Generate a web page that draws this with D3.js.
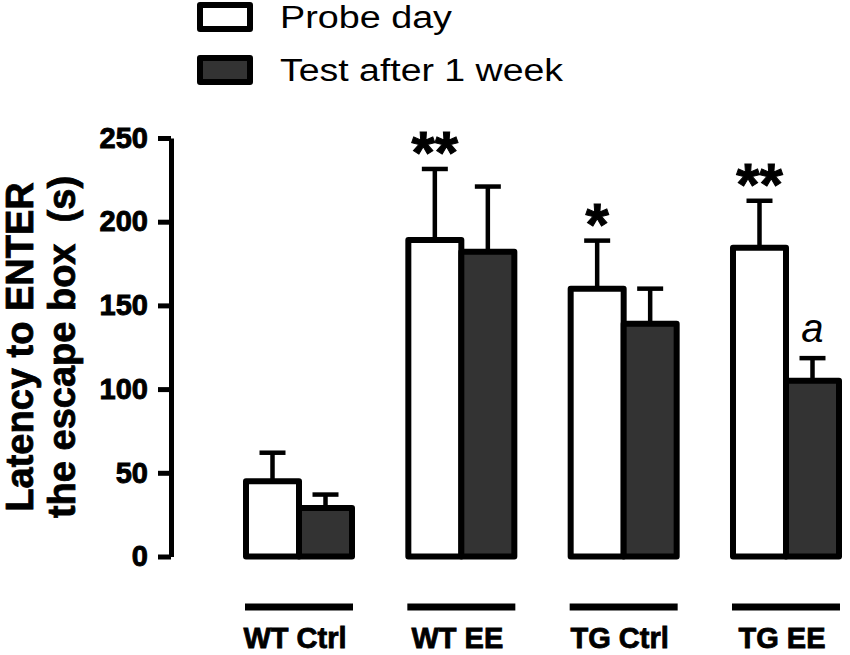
<!DOCTYPE html>
<html><head><meta charset="utf-8">
<script src="https://cdn.jsdelivr.net/npm/d3@7"></script>
<style>body{margin:0;background:#fff}svg{display:block}text{font-family:"Liberation Sans",Arial,sans-serif}</style>
</head><body>
<svg id="c" width="850" height="655"></svg>
<script>
const groups = ["WT Ctrl", "WT EE", "TG Ctrl", "TG EE"];
const seriesNames = ["Probe day", "Test after 1 week"];
const probeDay = [45, 189, 160, 184.5];
const probeSem = [17, 42.5, 28.7, 28];
const testWeek = [29, 182, 139, 105];
const testSem = [8, 39, 21, 13.5];
const probeMarks = ["", "**", "*", "**"];
const testMarks = ["", "", "", "a"];
const yTicks = [0, 50, 100, 150, 200, 250];

const svg = d3.select("#c");
const y = d3.scaleLinear().domain([0, 250]).range([556.5, 138]);
const x0 = d3.scaleBand().domain(groups).range([246, 839]).paddingInner(0.347).paddingOuter(0);
const x1 = d3.scaleBand().domain(seriesNames).range([0, x0.bandwidth()]);
const fills = {"Probe day": "#ffffff", "Test after 1 week": "#333333"};

const rows = [];
groups.forEach((g, i) => {
  rows.push({g, s: seriesNames[0], v: probeDay[i], e: probeSem[i], m: probeMarks[i]});
  rows.push({g, s: seriesNames[1], v: testWeek[i], e: testSem[i], m: testMarks[i]});
});

// axis
const axis = d3.axisLeft(y).tickValues(yTicks).tickSizeOuter(0).tickSizeInner(13).tickPadding(10);
const ax = svg.append("g").attr("transform", "translate(171,0)").call(axis);
ax.select(".domain").attr("stroke", "#000").attr("stroke-width", 5);
ax.selectAll(".tick line").attr("stroke", "#000").attr("stroke-width", 5);
ax.selectAll(".tick text").attr("fill", "#000").attr("stroke", "#000").attr("stroke-width", 0.9)
  .style("font-size", "29px").style("font-weight", "bold")
  .style("font-family", '"Liberation Sans",Arial,sans-serif');

// y title
const yt = svg.append("text").attr("transform", "translate(0,347) rotate(-90)")
  .attr("text-anchor", "middle").style("font-weight", "bold").style("font-size", "38px")
  .attr("stroke", "#000").attr("stroke-width", 0.8);
yt.append("tspan").attr("x", 0).attr("y", 33).text("Latency to ENTER");
yt.append("tspan").attr("x", 0).attr("y", 75).text("the escape box\u00a0\u00a0(s)");

// error bars
const cx = d => x0(d.g) + x1(d.s) + x1.bandwidth() / 2;
const eb = svg.append("g").attr("stroke", "#000").attr("stroke-width", 4.5);
eb.selectAll("line.v").data(rows).join("line").attr("class", "v")
  .attr("x1", cx).attr("x2", cx).attr("y1", d => y(d.v)).attr("y2", d => y(d.v + d.e));
eb.selectAll("line.c").data(rows).join("line").attr("class", "c")
  .attr("x1", d => cx(d) - 13).attr("x2", d => cx(d) + 13).attr("y1", d => y(d.v + d.e)).attr("y2", d => y(d.v + d.e));

// bars
svg.append("g").selectAll("rect").data(rows).join("rect")
  .attr("x", d => x0(d.g) + x1(d.s)).attr("width", x1.bandwidth())
  .attr("y", d => y(d.v)).attr("height", d => y(0) - y(d.v))
  .attr("fill", d => fills[d.s]).attr("stroke", "#000").attr("stroke-width", 6).attr("stroke-linejoin", "round");

// significance marks
svg.append("g").selectAll("text").data(rows.filter(d => d.m && d.m.startsWith("*"))).join("text")
  .attr("x", cx).attr("y", d => y(d.v + d.e) + 4).attr("text-anchor", "middle")
  .attr("stroke", "#000").attr("stroke-width", 1)
  .style("font-size", "60px").style("font-weight", "bold").text(d => d.m);
svg.append("g").selectAll("text").data(rows.filter(d => d.m && !d.m.startsWith("*"))).join("text")
  .attr("x", cx).attr("y", d => y(d.v + d.e) - 16).attr("text-anchor", "middle")
  .style("font-size", "40px").style("font-style", "italic").text(d => d.m);

// group lines & labels
const gl = svg.append("g");
gl.selectAll("line").data(groups).join("line")
  .attr("x1", g => x0(g) + x0.bandwidth() / 2 - 54).attr("x2", g => x0(g) + x0.bandwidth() / 2 + 54)
  .attr("y1", 607).attr("y2", 607).attr("stroke", "#000").attr("stroke-width", 7);
gl.selectAll("text").data(groups).join("text")
  .attr("x", g => x0(g) + x0.bandwidth() / 2 - 4).attr("y", 648).attr("text-anchor", "middle")
  .attr("stroke", "#000").attr("stroke-width", 0.8)
  .style("font-size", "29px").style("font-weight", "bold").text(g => g);

// legend
const lg = svg.append("g").selectAll("g").data(seriesNames).join("g")
  .attr("transform", (d, i) => `translate(0,${i * 53})`);
lg.append("rect").attr("x", 200).attr("y", 5).attr("width", 50).attr("height", 24)
  .attr("fill", d => fills[d]).attr("stroke", "#000").attr("stroke-width", 6).attr("stroke-linejoin", "round");
lg.append("text").attr("x", 280).attr("y", 28).style("font-size", "31px")
  .attr("textLength", (d, i) => i === 0 ? 172 : 283).attr("lengthAdjust", "spacingAndGlyphs").text(d => d);
</script>
</body></html>
